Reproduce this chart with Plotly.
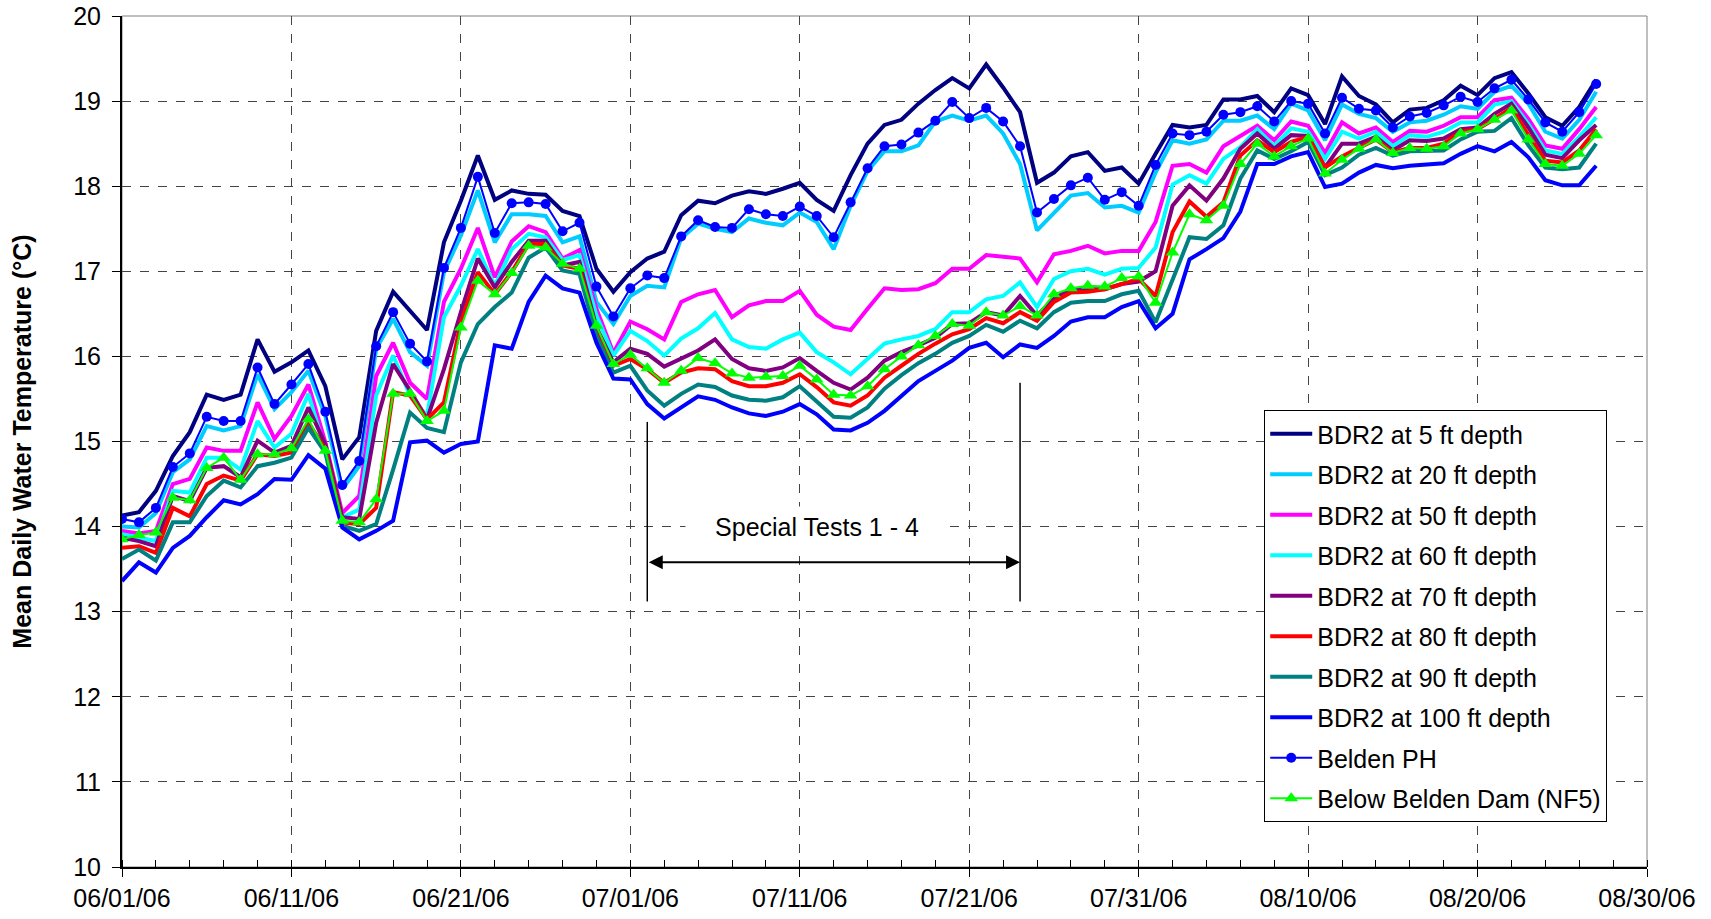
import pandas as pd
import plotly.graph_objects as go

dates = pd.date_range("2006-06-01", periods=88, freq="D")

bdr2_5ft = [14.13, 14.17, 14.42, 14.83, 15.11, 15.55, 15.49, 15.55, 16.20, 15.82, 15.93, 16.07, 15.65, 14.79, 15.05, 16.30, 16.76, 16.53, 16.31, 17.34, 17.83,
            18.36, 17.84, 17.95, 17.91, 17.90, 17.71, 17.65, 17.03, 16.76, 16.99, 17.15, 17.23, 17.66, 17.83, 17.80, 17.89, 17.94, 17.91, 17.97, 18.04,
            17.84, 17.71, 18.13, 18.50, 18.72, 18.78, 18.97, 19.13, 19.27, 19.15, 19.43, 19.16, 18.87, 18.04, 18.16, 18.35, 18.40, 18.18, 18.22, 18.03,
            18.38, 18.72, 18.69, 18.72, 19.02, 19.02, 19.06, 18.87, 19.15, 19.07, 18.73, 19.29, 19.06, 18.96, 18.75, 18.90, 18.92, 19.01, 19.18, 19.07,
            19.27, 19.34, 19.09, 18.81, 18.71, 18.93, 19.25]

bdr2_20ft = [14.00, 13.99, 14.16, 14.64, 14.79, 15.18, 15.13, 15.18, 15.79, 15.38, 15.58, 15.83, 15.30, 14.44, 14.71, 16.09, 16.44, 16.05, 15.89, 16.99, 17.42,
             17.95, 17.34, 17.67, 17.67, 17.65, 17.34, 17.41, 16.64, 16.38, 16.71, 16.83, 16.81, 17.39, 17.56, 17.50, 17.46, 17.62, 17.57, 17.54, 17.69,
             17.58, 17.26, 17.77, 18.18, 18.41, 18.41, 18.48, 18.76, 18.83, 18.77, 18.83, 18.62, 18.26, 17.48, 17.69, 17.89, 17.92, 17.75, 17.77, 17.69,
             18.16, 18.54, 18.50, 18.55, 18.77, 18.77, 18.83, 18.67, 18.97, 18.89, 18.54, 18.96, 18.85, 18.80, 18.64, 18.75, 18.77, 18.84, 18.94, 18.91,
             19.11, 19.18, 18.97, 18.64, 18.56, 18.78, 19.11]

bdr2_50ft = [13.95, 13.92, 13.95, 14.50, 14.56, 14.93, 14.89, 14.89, 15.46, 15.03, 15.30, 15.67, 14.99, 14.16, 14.36, 15.77, 16.16, 15.69, 15.50, 16.64, 17.03,
             17.51, 16.93, 17.35, 17.53, 17.46, 17.15, 17.25, 16.56, 16.04, 16.41, 16.32, 16.20, 16.64, 16.73, 16.78, 16.46, 16.60, 16.65, 16.65, 16.77,
             16.49, 16.35, 16.31, 16.56, 16.80, 16.78, 16.79, 16.86, 17.03, 17.03, 17.19, 17.17, 17.15, 16.87, 17.20, 17.24, 17.30, 17.21, 17.24, 17.24,
             17.58, 18.24, 18.26, 18.16, 18.47, 18.59, 18.71, 18.54, 18.76, 18.71, 18.39, 18.75, 18.62, 18.69, 18.52, 18.65, 18.64, 18.71, 18.81, 18.81,
             19.01, 19.04, 18.79, 18.48, 18.44, 18.67, 18.93]

bdr2_60ft = [13.91, 13.87, 13.83, 14.42, 14.40, 14.81, 14.81, 14.67, 15.24, 14.93, 15.09, 15.56, 14.89, 14.11, 14.20, 15.54, 16.01, 15.54, 15.30, 16.46, 16.83,
             17.26, 16.83, 17.26, 17.44, 17.40, 17.13, 17.19, 16.48, 16.01, 16.30, 16.18, 16.01, 16.21, 16.33, 16.51, 16.20, 16.11, 16.09, 16.20, 16.28,
             16.05, 15.93, 15.79, 15.97, 16.15, 16.20, 16.24, 16.32, 16.52, 16.52, 16.67, 16.71, 16.87, 16.58, 16.91, 17.00, 17.03, 16.96, 17.03, 17.04,
             17.28, 18.02, 18.13, 18.03, 18.32, 18.46, 18.67, 18.47, 18.68, 18.64, 18.32, 18.64, 18.56, 18.64, 18.47, 18.60, 18.58, 18.64, 18.75, 18.75,
             18.96, 19.00, 18.73, 18.42, 18.38, 18.58, 18.81]

bdr2_70ft = [13.87, 13.83, 13.77, 14.36, 14.30, 14.69, 14.71, 14.58, 15.01, 14.87, 14.95, 15.40, 14.97, 14.11, 14.09, 15.22, 15.91, 15.60, 15.26, 15.85, 16.52,
             17.15, 16.81, 17.11, 17.36, 17.36, 17.07, 17.11, 16.34, 15.93, 16.09, 16.03, 15.88, 15.97, 16.07, 16.20, 15.97, 15.86, 15.83, 15.87, 15.98,
             15.83, 15.69, 15.61, 15.75, 15.95, 16.05, 16.13, 16.22, 16.38, 16.39, 16.52, 16.48, 16.71, 16.48, 16.68, 16.79, 16.79, 16.79, 16.85, 16.88,
             17.00, 17.77, 18.01, 17.83, 18.09, 18.44, 18.62, 18.44, 18.60, 18.59, 18.22, 18.50, 18.50, 18.58, 18.42, 18.54, 18.53, 18.56, 18.67, 18.69,
             18.85, 18.97, 18.69, 18.37, 18.33, 18.54, 18.72]

bdr2_80ft = [13.75, 13.77, 13.69, 14.22, 14.12, 14.50, 14.60, 14.54, 14.85, 14.83, 14.87, 15.22, 14.91, 14.05, 14.03, 14.22, 15.58, 15.54, 15.26, 15.46, 16.40,
             16.99, 16.73, 16.99, 17.32, 17.32, 17.07, 17.03, 16.32, 15.89, 15.97, 15.85, 15.69, 15.81, 15.86, 15.85, 15.71, 15.65, 15.65, 15.69, 15.79,
             15.64, 15.46, 15.42, 15.54, 15.75, 15.89, 16.03, 16.15, 16.26, 16.32, 16.45, 16.39, 16.52, 16.42, 16.64, 16.75, 16.76, 16.79, 16.85, 16.91,
             16.71, 17.46, 17.82, 17.64, 17.81, 18.36, 18.54, 18.40, 18.52, 18.58, 18.22, 18.35, 18.45, 18.55, 18.40, 18.45, 18.45, 18.50, 18.64, 18.67,
             18.79, 18.92, 18.60, 18.30, 18.28, 18.42, 18.67]

bdr2_90ft = [13.62, 13.73, 13.60, 14.05, 14.05, 14.36, 14.54, 14.46, 14.71, 14.75, 14.81, 15.16, 14.87, 14.01, 13.95, 14.03, 14.67, 15.34, 15.16, 15.11, 15.93,
             16.38, 16.58, 16.75, 17.16, 17.28, 17.01, 16.97, 16.24, 15.81, 15.89, 15.60, 15.42, 15.56, 15.67, 15.64, 15.54, 15.49, 15.48, 15.52, 15.65,
             15.47, 15.29, 15.28, 15.40, 15.62, 15.78, 15.92, 16.03, 16.16, 16.24, 16.37, 16.29, 16.42, 16.33, 16.52, 16.63, 16.65, 16.65, 16.73, 16.77,
             16.40, 16.91, 17.40, 17.38, 17.54, 18.09, 18.42, 18.32, 18.41, 18.52, 18.13, 18.22, 18.37, 18.45, 18.36, 18.41, 18.41, 18.42, 18.55, 18.64,
             18.65, 18.80, 18.48, 18.22, 18.20, 18.22, 18.50]

bdr2_100ft = [13.36, 13.58, 13.46, 13.75, 13.89, 14.11, 14.31, 14.26, 14.38, 14.56, 14.55, 14.84, 14.68, 13.99, 13.85, 13.95, 14.07, 14.99, 15.01, 14.87, 14.97,
              15.00, 16.13, 16.09, 16.64, 16.95, 16.80, 16.75, 16.16, 15.74, 15.73, 15.44, 15.27, 15.40, 15.53, 15.49, 15.40, 15.33, 15.30, 15.35, 15.44,
              15.32, 15.14, 15.13, 15.22, 15.36, 15.54, 15.71, 15.83, 15.95, 16.10, 16.16, 15.99, 16.14, 16.10, 16.24, 16.41, 16.46, 16.46, 16.58, 16.65,
              16.33, 16.50, 17.14, 17.26, 17.39, 17.70, 18.26, 18.26, 18.35, 18.40, 17.99, 18.03, 18.16, 18.25, 18.21, 18.24, 18.26, 18.27, 18.38, 18.47,
              18.41, 18.52, 18.34, 18.07, 18.01, 18.01, 18.24]

belden_ph = [14.09, 14.05, 14.22, 14.70, 14.86, 15.29, 15.24, 15.24, 15.87, 15.44, 15.67, 15.91, 15.35, 14.49, 14.77, 16.12, 16.52, 16.15, 15.94, 17.04, 17.51,
             18.11, 17.45, 17.80, 17.81, 17.79, 17.47, 17.57, 16.82, 16.47, 16.80, 16.95, 16.92, 17.41, 17.60, 17.52, 17.51, 17.73, 17.67, 17.65, 17.76,
             17.65, 17.40, 17.81, 18.21, 18.47, 18.49, 18.63, 18.77, 18.99, 18.80, 18.92, 18.76, 18.47, 17.69, 17.85, 18.01, 18.10, 17.84, 17.93, 17.77,
             18.25, 18.62, 18.60, 18.64, 18.84, 18.87, 18.94, 18.76, 19.00, 18.97, 18.62, 19.04, 18.91, 18.89, 18.69, 18.82, 18.86, 18.95, 19.05, 18.99,
             19.15, 19.25, 19.02, 18.75, 18.64, 18.87, 19.20]

below_dam_nf5 = [13.85, 13.90, 13.93, 14.34, 14.31, 14.69, 14.81, 14.55, 14.85, 14.85, 14.92, 15.26, 14.89, 14.07, 14.05, 14.32, 15.56, 15.56, 15.24, 15.36, 16.34,
                 16.89, 16.73, 16.98, 17.30, 17.28, 17.09, 17.03, 16.36, 15.91, 16.02, 15.86, 15.69, 15.83, 15.98, 15.92, 15.80, 15.75, 15.76, 15.77, 15.89,
                 15.73, 15.55, 15.54, 15.65, 15.85, 16.00, 16.13, 16.24, 16.38, 16.36, 16.52, 16.48, 16.59, 16.48, 16.73, 16.80, 16.83, 16.82, 16.92, 16.94,
                 16.63, 17.22, 17.67, 17.60, 17.77, 18.26, 18.50, 18.35, 18.47, 18.56, 18.15, 18.31, 18.44, 18.55, 18.39, 18.45, 18.44, 18.47, 18.62, 18.67,
                 18.78, 18.89, 18.55, 18.26, 18.24, 18.38, 18.60]

# Annotation (Special Tests period)
test_start = "2006-07-02"
test_end = "2006-07-24"
test_label = "Special Tests 1 - 4"

FONT = "Liberation Sans, Arial, sans-serif"

depth_series = [
    ("BDR2 at 5 ft depth", bdr2_5ft, "#000080"),
    ("BDR2 at 20 ft depth", bdr2_20ft, "#00CCFF"),
    ("BDR2 at 50 ft depth", bdr2_50ft, "#FF00FF"),
    ("BDR2 at 60 ft depth", bdr2_60ft, "#00FFFF"),
    ("BDR2 at 70 ft depth", bdr2_70ft, "#800080"),
    ("BDR2 at 80 ft depth", bdr2_80ft, "#FF0000"),
    ("BDR2 at 90 ft depth", bdr2_90ft, "#008080"),
    ("BDR2 at 100 ft depth", bdr2_100ft, "#0000FF"),
]

fig = go.Figure()
for name, vals, col in depth_series:
    fig.add_trace(go.Scatter(x=dates, y=vals, name=name, mode="lines",
                             line=dict(color=col, width=4), legendgroup=name))

fig.add_trace(go.Scatter(x=dates, y=belden_ph, name="Belden PH", mode="lines+markers",
                         line=dict(color="#0000FF", width=2),
                         marker=dict(symbol="circle", size=10, color="#0000FF"),
                         legendgroup="Belden PH"))
fig.add_trace(go.Scatter(x=dates, y=below_dam_nf5, name="Below Belden Dam (NF5)", mode="lines+markers",
                         line=dict(color="#00FF00", width=2),
                         marker=dict(symbol="triangle-up", size=12, color="#00FF00"),
                         legendgroup="NF5"))

# Special tests bracket
fig.add_shape(type="line", xref="x", yref="y", x0=test_start, x1=test_start, y0=13.12, y1=15.23,
              line=dict(color="black", width=1.5))
fig.add_shape(type="line", xref="x", yref="y", x0=test_end, x1=test_end, y0=13.12, y1=15.69,
              line=dict(color="black", width=1.5))
fig.add_annotation(x=test_end, y=13.58, ax=test_start, ay=13.58, xref="x", yref="y",
                   axref="x", ayref="y", text="", showarrow=True, arrowhead=2,
                   arrowside="end+start", arrowwidth=2, arrowsize=1.4, arrowcolor="black")
fig.add_annotation(x="2006-07-12", y=14.0, xref="x", yref="y", text=test_label, showarrow=False,
                   bgcolor="white", borderpad=6, width=250,
                   font=dict(family=FONT, size=25, color="black"))

# Gray frame
fig.add_shape(type="rect", xref="paper", yref="paper", x0=0, x1=1, y0=0, y1=1,
              line=dict(color="#808080", width=1), layer="below")

fig.update_layout(
    width=1711, height=919,
    margin=dict(l=122, r=64, t=16, b=52, autoexpand=False),
    paper_bgcolor="white", plot_bgcolor="white",
    font=dict(family=FONT, size=25, color="black"),
    showlegend=True,
    legend=dict(x=0.749, y=0.537, xanchor="left", yanchor="top",
                bgcolor="white", bordercolor="black", borderwidth=1,
                font=dict(family=FONT, size=25, color="black"),
                tracegroupgap=5, traceorder="grouped", itemwidth=42),
)

fig.update_xaxes(
    type="date", range=["2006-06-01", "2006-08-30"],
    tick0="2006-06-01", dtick=10 * 86400000, tickformat="%m/%d/%y",
    showline=True, linecolor="black", linewidth=2,
    ticks="outside", ticklen=8, tickcolor="black", tickwidth=1,
    showgrid=True, gridcolor="#444444", griddash="dash", gridwidth=1,
    minor=dict(dtick=2 * 86400000, tick0="2006-06-01", ticks="inside", ticklen=7,
               tickcolor="black", showgrid=False),
    tickfont=dict(family=FONT, size=25), zeroline=False, automargin=False,
)
fig.update_yaxes(
    range=[10, 20], dtick=1, tick0=10,
    showline=True, linecolor="black", linewidth=2,
    ticks="outside", ticklen=8, tickcolor="black", ticklabelstandoff=6,
    showgrid=True, gridcolor="#444444", griddash="dash", gridwidth=1,
    tickfont=dict(family=FONT, size=25), zeroline=False, automargin=False,
    title=dict(text="<b>Mean Daily Water Temperature (°C)</b>", standoff=34,
               font=dict(family=FONT, size=25)),
)

fig.write_html("out.html", config={"displayModeBar": False},
               post_script="document.body.style.margin='0';")
